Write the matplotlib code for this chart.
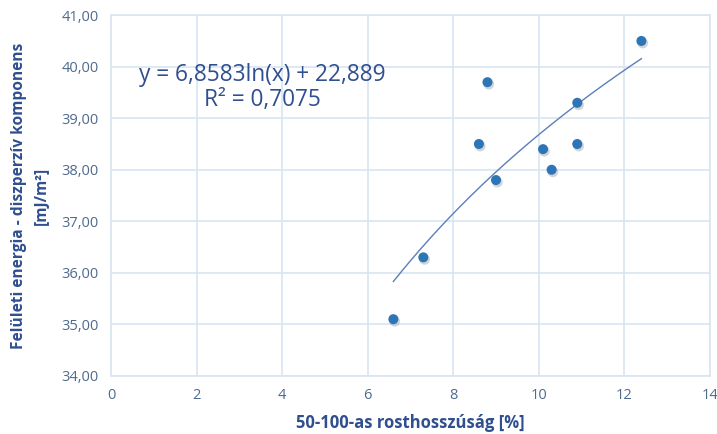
import numpy as np
import matplotlib
matplotlib.use("Agg")
import matplotlib.pyplot as plt
from matplotlib.ticker import FuncFormatter

plt.rcParams['font.family'] = ['Open Sans', 'DejaVu Sans']

# Measured data
fiber_length = [6.6, 7.3, 8.6, 8.8, 9.0, 10.1, 10.3, 10.9, 10.9, 12.4]
dispersive_energy = [35.1, 36.3, 38.5, 39.7, 37.8, 38.4, 38.0, 39.3, 38.5, 40.5]

# Logarithmic trend coefficients
coef_a = 6.8583
coef_b = 22.889
r_squared = 0.7075

x_ticks = [0, 2, 4, 6, 8, 10, 12, 14]
y_ticks = [34, 35, 36, 37, 38, 39, 40, 41]

text_color = '#2F4F8F'
tick_color = '#4F6A8F'
grid_color = '#D9E5F2'
marker_color = '#2E75B6'
trend_color = '#5B7FB8'

fig = plt.figure(figsize=(7.17, 4.34), dpi=100)
ax = fig.add_axes([0.155, 0.134, 0.835, 0.831])

ax.set_xlim(0, 14)
ax.set_ylim(34, 41)
ax.set_xticks(x_ticks)
ax.set_yticks(y_ticks)
ax.yaxis.set_major_formatter(FuncFormatter(lambda v, p: f"{v:.2f}".replace('.', ',')))
ax.grid(True, color=grid_color, linewidth=1.2)
ax.set_axisbelow(True)
for s in ax.spines.values():
    s.set_color(grid_color)
    s.set_linewidth(1.2)
ax.tick_params(length=0, colors=tick_color, labelsize=10.5, pad=9)

# trend line over the data range
xs = np.linspace(min(fiber_length), max(fiber_length), 200)
ax.plot(xs, coef_a * np.log(xs) + coef_b, color=trend_color, linewidth=1.0, zorder=2)

# markers with soft shadow
ax.scatter(np.array(fiber_length) + 0.03, np.array(dispersive_energy) - 0.04, s=60,
           color='#9AA3AE', alpha=0.45, edgecolors='none', zorder=3)
ax.scatter(fiber_length, dispersive_energy, s=52, color=marker_color,
           edgecolors='none', zorder=4)

eq = f"y = {coef_a:.4f}ln(x) + {coef_b:.3f}".replace('.', ',')
r2 = f"R² = {r_squared:.4f}".replace('.', ',')
ax.text(3.53, 39.6, eq + "\n" + r2, ha='center', va='center', color=text_color,
        fontsize=16.3, linespacing=1.05, multialignment='center')

ax.set_xlabel("50-100-as rosthosszúság [%]", fontsize=12, fontweight='bold',
              color=text_color, labelpad=8)
ax.set_ylabel("Felületi energia - diszperzív komponens\n[mJ/m²]", fontsize=11.2,
              fontweight='bold', color=text_color, labelpad=8, linespacing=1.6)

fig.savefig("out.png", dpi=100, facecolor='white')
